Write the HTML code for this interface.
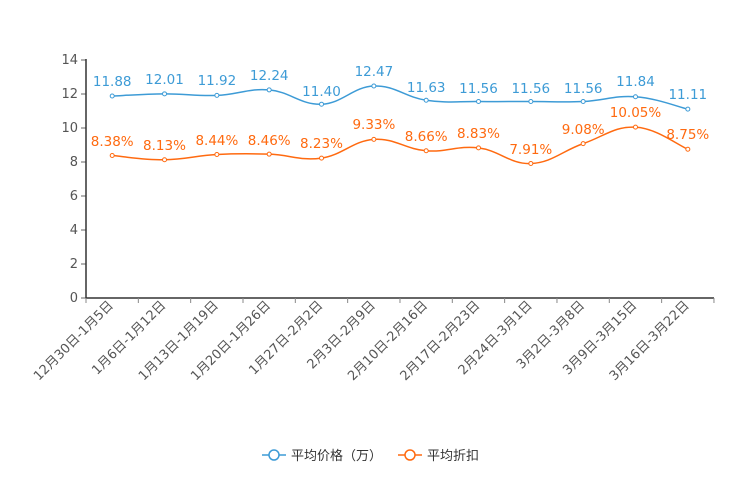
<!DOCTYPE html>
<html><head><meta charset="utf-8"><style>
html,body{margin:0;padding:0;background:#fff;}
svg{display:block;font-family:"DejaVu Sans","Noto Sans CJK SC",sans-serif;}
</style></head><body>
<svg id="s" width="744" height="496" viewBox="0 0 744 496">
<g font-size="13" fill="#555" text-anchor="end">
<text x="78" y="302">0</text><text x="78" y="268">2</text><text x="78" y="234">4</text><text x="78" y="200">6</text>
<text x="78" y="166">8</text><text x="78" y="132">10</text><text x="78" y="98">12</text><text x="78" y="64">14</text>
</g>
<g stroke="#666" stroke-width="1">
<line x1="81" y1="298" x2="86" y2="298"/><line x1="81" y1="264" x2="86" y2="264"/><line x1="81" y1="230" x2="86" y2="230"/>
<line x1="81" y1="196" x2="86" y2="196"/><line x1="81" y1="162" x2="86" y2="162"/><line x1="81" y1="128" x2="86" y2="128"/>
<line x1="81" y1="94" x2="86" y2="94"/><line x1="81" y1="60" x2="86" y2="60"/>
</g>
<line x1="86" y1="59" x2="86" y2="298.5" stroke="#333" stroke-width="1.5"/>
<line x1="86" y1="298" x2="714" y2="298" stroke="#333" stroke-width="1.5"/>
<g id="ticks" stroke="#888"></g>
<g font-size="13" fill="#555" text-anchor="end">
<text transform="translate(114,306) rotate(-45)">12月30日-1月5日</text>
<text transform="translate(166.5,306) rotate(-45)">1月6日-1月12日</text>
<text transform="translate(218.9,306) rotate(-45)">1月13日-1月19日</text>
<text transform="translate(271.2,306) rotate(-45)">1月20日-1月26日</text>
<text transform="translate(323.5,306) rotate(-45)">1月27日-2月2日</text>
<text transform="translate(375.9,306) rotate(-45)">2月3日-2月9日</text>
<text transform="translate(428.2,306) rotate(-45)">2月10日-2月16日</text>
<text transform="translate(480.5,306) rotate(-45)">2月17日-2月23日</text>
<text transform="translate(532.8,306) rotate(-45)">2月24日-3月1日</text>
<text transform="translate(585.2,306) rotate(-45)">3月2日-3月8日</text>
<text transform="translate(637.5,306) rotate(-45)">3月9日-3月15日</text>
<text transform="translate(689.8,306) rotate(-45)">3月16日-3月22日</text>
</g>
<path id="pb" fill="none" stroke="#3d9bd6" stroke-width="1.5"/>
<path id="po" fill="none" stroke="#ff6a10" stroke-width="1.5"/>
<g id="cb"></g><g id="co"></g>
<g font-size="13.5" fill="#3d9bd6" text-anchor="middle">
<text x="112.2" y="86">11.88</text><text x="164.5" y="84">12.01</text><text x="216.9" y="85">11.92</text>
<text x="269.2" y="80">12.24</text><text x="321.5" y="96">11.40</text><text x="373.9" y="76">12.47</text>
<text x="426.2" y="92">11.63</text><text x="478.5" y="93">11.56</text><text x="530.8" y="93">11.56</text>
<text x="583.2" y="93">11.56</text><text x="635.5" y="86">11.84</text><text x="687.8" y="99">11.11</text>
</g>
<g font-size="13.5" fill="#ff6a10" text-anchor="middle">
<text x="112.2" y="146">8.38%</text><text x="164.5" y="150">8.13%</text><text x="216.9" y="145">8.44%</text>
<text x="269.2" y="145">8.46%</text><text x="321.5" y="148">8.23%</text><text x="373.9" y="129">9.33%</text>
<text x="426.2" y="141">8.66%</text><text x="478.5" y="138">8.83%</text><text x="530.8" y="154">7.91%</text>
<text x="583.2" y="134">9.08%</text><text x="635.5" y="117">10.05%</text><text x="687.8" y="139">8.75%</text>
</g>
<g font-size="13" fill="#333">
<line x1="262" y1="455" x2="286" y2="455" stroke="#3d9bd6" stroke-width="1.5"/>
<circle cx="274" cy="455" r="5" fill="#fff" stroke="#3d9bd6" stroke-width="1.5"/>
<text x="291" y="460">平均价格（万）</text>
<line x1="398" y1="455" x2="422" y2="455" stroke="#ff6a10" stroke-width="1.5"/>
<circle cx="410" cy="455" r="5" fill="#fff" stroke="#ff6a10" stroke-width="1.5"/>
<text x="427" y="460">平均折扣</text>
</g>
</svg>
<script>
var B=[11.88,12.01,11.92,12.24,11.40,12.47,11.63,11.56,11.56,11.56,11.84,11.11];
var O=[8.38,8.13,8.44,8.46,8.23,9.33,8.66,8.83,7.91,9.08,10.05,8.75];
function X(i){return 112.2+52.33*i;}function Y(v){return 298-17*v;}
function path(a){var p=a.map(function(v,i){return [X(i),Y(v)];});var d="M"+p[0];
for(var i=0;i<p.length-1;i++){var p0=p[i-1]||p[i],p1=p[i],p2=p[i+1],p3=p[i+2]||p2,t=0.2;
d+=" C"+(p1[0]+(p2[0]-p0[0])*t)+","+(p1[1]+(p2[1]-p0[1])*t)+" "+(p2[0]-(p3[0]-p1[0])*t)+","+(p2[1]-(p3[1]-p1[1])*t)+" "+p2;}return d;}
document.getElementById("pb").setAttribute("d",path(B));
document.getElementById("po").setAttribute("d",path(O));
function dots(a,id,c){var s="";a.forEach(function(v,i){s+='<circle cx="'+X(i)+'" cy="'+Y(v)+'" r="2" fill="#fff" stroke="'+c+'" stroke-width="1"/>';});document.getElementById(id).innerHTML=s;}
dots(B,"cb","#3d9bd6");dots(O,"co","#ff6a10");
var t="";for(var i=0;i<=12;i++){var x=86+52.33*i;t+='<line x1="'+x+'" y1="298" x2="'+x+'" y2="303"/>';}
document.getElementById("ticks").innerHTML=t;
</script>
</body></html>
